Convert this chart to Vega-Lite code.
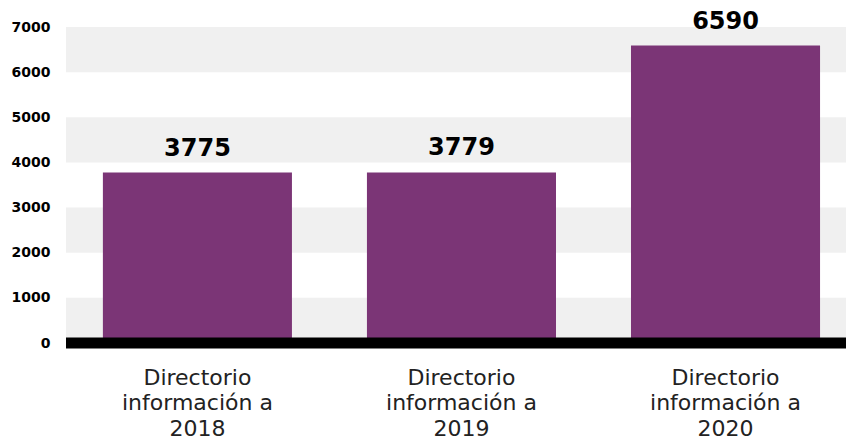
{
  "$schema": "https://vega.github.io/schema/vega-lite/v6.json",
  "autosize": "none",
  "width": 780,
  "height": 316,
  "padding": {"left": 66, "top": 27, "right": 0, "bottom": 97},
  "background": "white",
  "config": {"view": {"stroke": null}},
  "datasets": {
    "main": [
      {"categoria": "Directorio|información a|2018", "valor": 3775},
      {"categoria": "Directorio|información a|2019", "valor": 3779},
      {"categoria": "Directorio|información a|2020", "valor": 6590}
    ],
    "bands": [
      {"desde": 0, "hasta": 1000},
      {"desde": 2000, "hasta": 3000},
      {"desde": 4000, "hasta": 5000},
      {"desde": 6000, "hasta": 7000}
    ]
  },
  "layer": [
    {
      "data": {"name": "bands"},
      "mark": {"type": "rect", "color": "#f0f0f0"},
      "encoding": {
        "x": {"value": 0},
        "x2": {"value": "width"},
        "y": {"field": "desde", "type": "quantitative", "scale": {"domain": [0, 7000], "nice": false}, "axis": {"values": [0,1000,2000,3000,4000,5000,6000,7000], "format": "d", "grid": false, "ticks": false, "domain": false, "title": null, "labelFont": "DejaVu Sans", "labelFontWeight": "bold", "labelFontSize": 14, "labelColor": "#000000", "labelPadding": 16}},
        "y2": {"field": "hasta"}
      }
    },
    {
      "data": {"name": "main"},
      "mark": {"type": "bar", "color": "#7b3576"},
      "encoding": {
        "x": {"field": "categoria", "type": "nominal", "sort": null, "scale": {"paddingInner": 0.284, "paddingOuter": 0.119, "align": 0.587}, "axis": {"title": null, "labelAngle": 0, "ticks": false, "domain": false, "labelExpr": "split(datum.label, '|')", "labelFont": "DejaVu Sans", "labelFontSize": 22, "labelLineHeight": 25.5, "labelColor": "#222222", "labelPadding": 24, "labelBaseline": "top"}},
        "y": {"field": "valor", "type": "quantitative"}
      }
    },
    {
      "data": {"values": [{"cero": 0}]},
      "mark": {"type": "rule", "color": "#000000", "strokeWidth": 11},
      "encoding": {
        "x": {"value": 0},
        "x2": {"value": "width"},
        "y": {"field": "cero", "type": "quantitative"}
      }
    },
    {
      "data": {"name": "main"},
      "mark": {"type": "text", "font": "DejaVu Sans", "fontWeight": "bold", "fontSize": 24, "color": "#000000", "baseline": "alphabetic", "dy": -17},
      "encoding": {
        "x": {"field": "categoria", "type": "nominal", "sort": null},
        "y": {"field": "valor", "type": "quantitative"},
        "text": {"field": "valor", "type": "quantitative", "format": "d"}
      }
    }
  ]
}
